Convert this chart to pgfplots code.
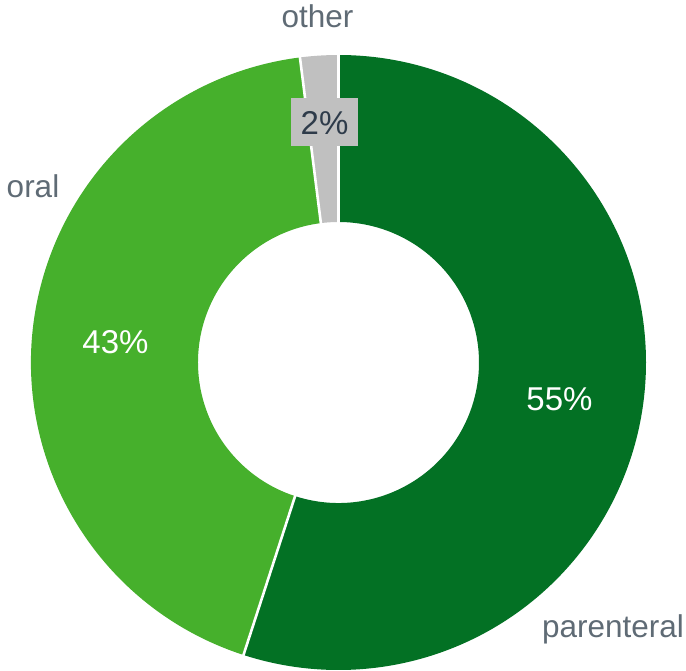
\documentclass[border=0pt]{standalone}
\usepackage{pgfplots}
\pgfplotsset{compat=1.18}
\usepackage{pgfplotstable}
\usepackage{fontspec}
\setmainfont{Liberation Sans}
\definecolor{cparenteral}{HTML}{037124}
\definecolor{coral}{HTML}{46B02C}
\definecolor{cother}{HTML}{C0C0C0}
\definecolor{labelgray}{HTML}{5F6B75}
\definecolor{darktext}{HTML}{2E3B4A}

\pgfplotstableread{
label value
parenteral 55
oral 43
other 2
}\shares

\newcommand\sector[3]{%
  \fill[#1] (axis cs:\cx,\cy) ++(#2:\R pt) arc[start angle=#2,end angle=#3,radius=\R pt]
    -- ++({#3+180}:\dr pt) arc[start angle=#3,end angle=#2,radius=\r pt] -- cycle;}
\newcommand\separator[1]{%
  \draw[white, line width=2.6pt] (axis cs:\cx,\cy) ++(#1:\rin pt) -- ++(#1:\drl pt);}

\begin{document}
\begin{tikzpicture}
\pgfplotstablegetelem{0}{value}\of\shares \edef\vA{\pgfplotsretval}
\pgfplotstablegetelem{1}{value}\of\shares \edef\vB{\pgfplotsretval}
\pgfplotstablegetelem{2}{value}\of\shares \edef\vC{\pgfplotsretval}
\pgfmathsetmacro\total{\vA+\vB+\vC}
\pgfmathsetmacro\aZero{90}
\pgfmathsetmacro\aOne{90-360*(\vA/\total)}
\pgfmathsetmacro\aTwo{\aOne-360*(\vB/\total)}
\pgfmathsetmacro\aThree{\aTwo-360*(\vC/\total)}
\def\cx{338.5}\def\cy{307.5}\def\R{307.5}\def\r{140.5}
\pgfmathsetmacro\dr{\R-\r}
\pgfmathsetmacro\rin{\r-2}
\pgfmathsetmacro\drl{\dr+4}
\begin{axis}[x=1pt,y=1pt,xmin=0,xmax=686,ymin=0,ymax=670,hide axis,clip=false]
\coordinate (SW) at (axis cs:0,0);
\coordinate (NE) at (axis cs:686,670);
\sector{cparenteral}{\aZero}{\aOne}
\sector{coral}{\aOne}{\aTwo}
\sector{cother}{\aTwo}{\aThree}
\separator{\aZero}
\separator{\aOne}
\separator{\aTwo}
\node[anchor=base, font=\fontsize{31.5}{36}\selectfont, text=labelgray] at (axis cs:317.5,642) {other};
\node[anchor=base, font=\fontsize{31.5}{36}\selectfont, text=labelgray] at (axis cs:613,32) {parenteral};
\node[anchor=base, font=\fontsize{31.5}{36}\selectfont, text=labelgray] at (axis cs:33,472) {oral};
\fill[cother] (axis cs:291,524) rectangle (axis cs:358,572);
\node[anchor=base, font=\fontsize{33}{40}\selectfont, text=darktext] at (axis cs:324.5,535) {\vC\%};
\node[anchor=base, font=\fontsize{33}{40}\selectfont, text=white] at (axis cs:559.5,259) {\vA\%};
\node[anchor=base, font=\fontsize{33}{40}\selectfont, text=white] at (axis cs:115.5,316) {\vB\%};
\end{axis}
\pgfresetboundingbox
\useasboundingbox (SW) rectangle (NE);
\end{tikzpicture}
\end{document}
